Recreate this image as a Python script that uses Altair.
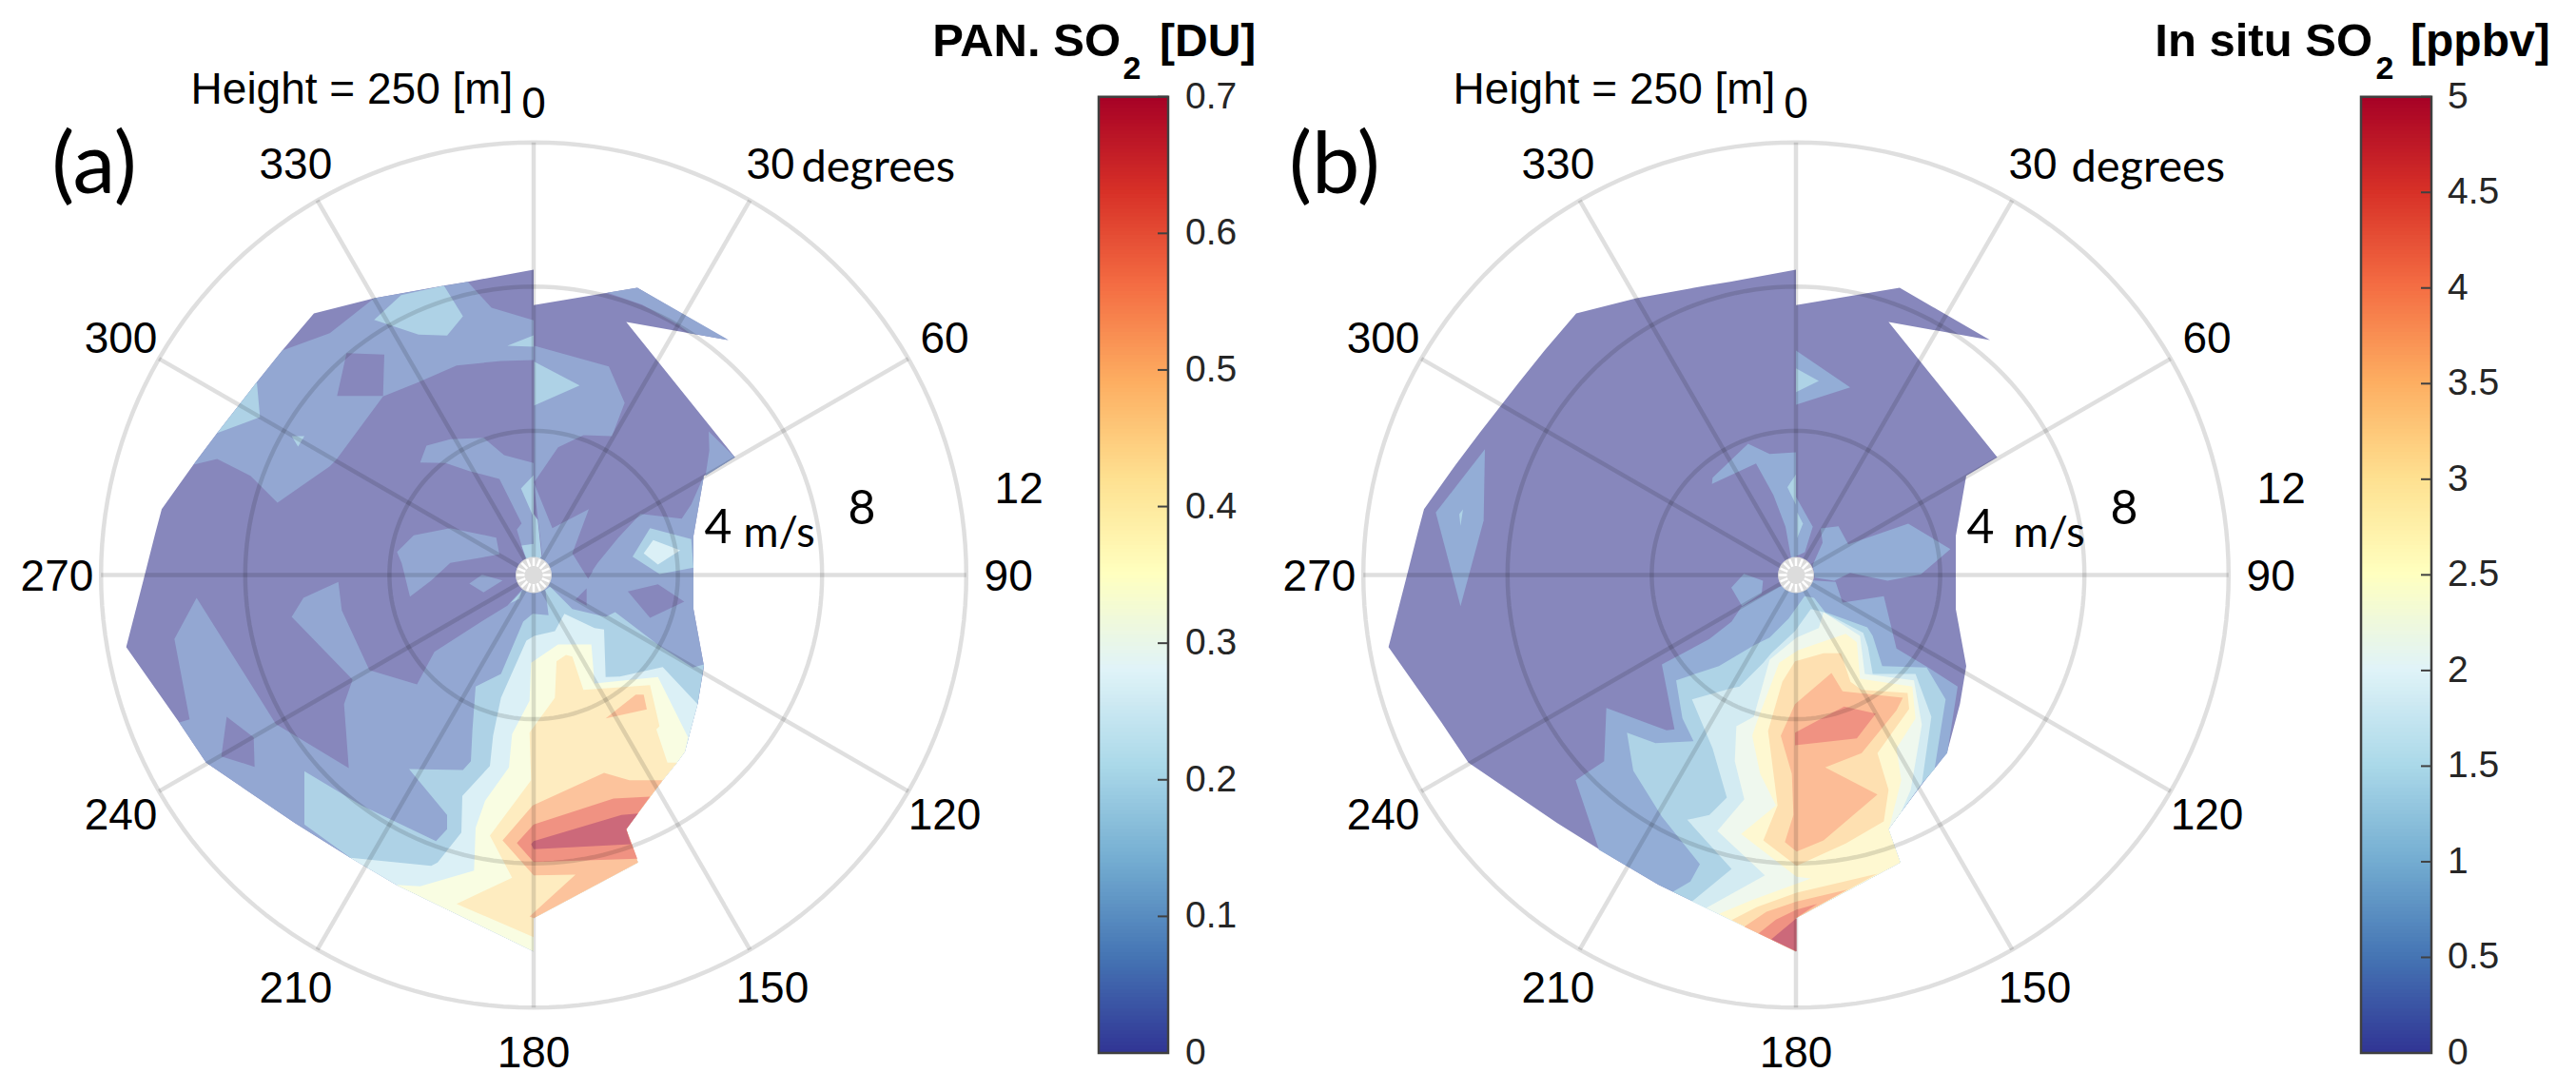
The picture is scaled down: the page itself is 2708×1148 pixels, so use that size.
import numpy as np
import pandas as pd
import altair as alt

# Contour outlines as (east, north) wind components,
# in units of 1/113.7 m/s; they are converted to m/s below.
UNITS_PER_MS = 113.7
PX_PER_MS = 37.9

COL_A = {"p": "#8787bc", "s": "#93a7d2", "l3": "#aed2e6", "l4": "#dbf0f6", "l5": "#f9fde2",
         "l6": "#feecc0", "l7": "#fcc39c", "l8": "#f09282", "l9": "#cc697a"}
COL_B = {"p": "#8787bc", "s": "#93add6", "l3": "#aed3e6", "l4": "#d3ebf2", "l5": "#eff8ee",
         "l6": "#fef8d1", "l7": "#fee0b1", "l8": "#fcbc96", "l9": "#f09282", "l10": "#cc697a"}

OUTLINE = [(0,963),(-208,925),(-283,913),(-503,873),(-693,825),(-793,708),(-873,608),(-998,448),
           (-1073,348),(-1173,208),(-1193,133),(-1231,-17),(-1285,-227),(-1118,-465),(-1033,-592),
           (-753,-782),(-578,-892),(-433,-977),(0,-1187),(0,-1082),(329,-907),(292,-802),(332,-747),
           (407,-647),(452,-592),(477,-557),(517,-407),(537,-287),(504,-107),(504,123),(537,313),
           (635,371),(292,798),(612,741),(327,906),(0,851)]
SE = [(517,-407),(477,-557),(452,-592),(407,-647),(332,-747),(292,-802),(329,-907),(0,-1082),(0,-1187)]

PANEL_A = [
 ("p", OUTLINE),
 ("s", [(-793,708),(-643,763),(-598,798),(-503,873),(-208,925),(-133,843),(0,803),(0,678),(-103,675),
        (-243,661),(-363,608),(-475,563),(-623,363),(-643,343),(-808,228),(-893,313),(-998,366),
        (-1073,348),(-998,448),(-873,608)]),
 ("p", [(-620,565),(-590,700),(-471,695),(-475,565)]),
 ("l3", [(-503,805),(-418,883),(-283,913),(-223,816),(-273,755),(-363,758)]),
 ("l3", [(-83,723),(0,756),(0,720)]),
 ("l3", [(-998,448),(-873,608),(-863,498)]),
 ("l3", [(-763,438),(-723,438),(-743,405)]),
 ("s", [(-358,355),(-338,408),(-263,428),(-158,433),(-93,378),(0,353),(0,30),(-23,43),(-53,143),
        (-38,163),(-108,303),(-203,328),(-278,353)]),
 ("l3", [(-40,273),(0,315),(0,193),(13,173),(25,60),(8,30),(-15,30),(-38,93),(0,98),(-3,188)]),
 ("s", [(-431,73),(-378,125),(-263,148),(-118,118),(-108,65),(-263,38),(-323,-17),(-390,-68),(-416,37)]),
 ("s", [(-203,-27),(-163,1),(-98,-17),(-158,-55)]),
 ("s", [(-1118,-465),(-1085,-455),(-1133,-202),(-1063,-72),(-813,-470),(-583,-609),(-598,-407),(-571,-330),
        (-763,-132),(-726,-72),(-616,-22),(-605,-112),(-518,-300),(-368,-345),(-313,-242),(-173,-152),
        (-83,-97),(-38,-47),(0,-27),(0,-400),(-100,-600),(-300,-880),(-578,-892),(-753,-782),(-1033,-592)]),
 ("p", [(-968,-447),(-883,-512),(-880,-605),(-985,-572)]),
 ("s", [(0,293),(59,148),(174,208),(122,68),(170,-9),(202,38),(267,118),(337,193),(467,178),(497,223),
        (537,313),(504,123),(504,-107),(537,-287),(517,-407),(200,-300),(0,-200),(-20,-20),(27,63)]),
 ("s", [(2,723),(237,658),(287,543),(247,438),(157,441),(77,403),(2,293)]),
 ("l3", [(2,673),(145,598),(2,535)]),
 ("s", [(232,890),(327,906),(615,741),(492,763),(457,788),(342,853)]),
 ("s", [(552,453),(635,371),(542,313),(554,393)]),
 ("l3", [(312,58),(367,148),(497,113),(504,23),(397,3)]),
 ("l4", [(347,68),(377,110),(462,78),(392,33)]),
 ("p", [(297,-52),(392,-29),(475,-84),(367,-135)]),
 ("p", [(132,-77),(167,-42),(167,-97)]),
 ("p", [(162,13),(187,13),(172,-12)]),
 ("l3", [(-74,-89),(-38,-52),(-45,-75)]),
 ("l3", [(-723,-619),(-543,-727),(-308,-839),(-273,-802),(-273,-757),(-393,-612),(-223,-615),(-198,-587),
         (-193,-487),(-183,-352),(-103,-312),(-33,-147),(-3,-122),(47,-127),(42,-87),(37,-47),(52,-37),
         (122,-107),(227,-132),(257,-117),(402,-227),(502,-292),(537,-282)] + SE +
        [(-433,-977),(-578,-892),(-723,-787)]),
 ("l4", [(-578,-892),(-323,-917),(-303,-907),(-228,-812),(-225,-697),(-138,-602),(-128,-507),(-103,-387),
         (-23,-207),(2,-192),(67,-177),(97,-122),(192,-167),(222,-172),(227,-322),(272,-320),(407,-290)] + SE +
        [(-433,-977)]),
 ("l5", [(-433,-977),(-358,-982),(-188,-932),(-183,-797),(-153,-712),(-78,-607),(-68,-502),(-13,-397),
         (-8,-277),(77,-219),(182,-219),(192,-342),(392,-322),(487,-512)] + SE[1:]),
 ("l6", [(-243,-1037),(-68,-955),(-138,-822),(-8,-647),(-13,-497),(67,-387),(72,-272),(102,-252),(122,-257),
         (157,-362),(367,-347),(397,-477),(387,-487),(422,-592)] + SE[2:-1] + [(0,-1142)]),
 ("l7", [(-98,-837),(-3,-727),(222,-624),(302,-647)] + SE[3:-1] + [(-13,-1077),(132,-945),(0,-947)]),
 ("l7", [(227,-452),(322,-377),(347,-377),(357,-424)]),
 ("l8", [(-53,-845),(0,-787),(252,-705),(367,-699),(332,-747),(292,-802),(327,-895),(0,-905)]),
 ("l9", [(-8,-849),(0,-839),(277,-757),(329,-752),(292,-802),(307,-849),(0,-865)]),
]

PANEL_B = [
 ("p", OUTLINE),
 ("s", [(0,708),(171,592),(0,537)]),
 ("l3", [(0,652),(72,612),(0,577)]),
 ("s", [(-1136,197),(-981,397),(-985,172),(-1058,-98)]),
 ("l3", [(-1062,192),(-1050,207),(-1058,155)]),
 ("s", [(-265,287),(-263,307),(-151,414),(-83,382),(0,387),(0,247),(53,152),(28,72),(-15,52),(-33,152),
        (-71,252),(-126,352)]),
 ("l3", [(-27,277),(0,317),(0,222)]),
 ("l3", [(4,197),(22,162),(4,117)]),
 ("s", [(78,147),(134,154),(165,97),(354,162),(487,82),(394,2),(289,-18),(171,7),(121,-18),(59,-8),(53,32),(84,102)]),
 ("s", [(-204,-40),(-164,4),(-104,-18),(-108,-58),(-170,-98)]),
 ("s", [(-53,-37),(-173,-102),(-203,-147),(-273,-202),(-423,-282),(-383,-487),(-408,-490),(-598,-419),
        (-605,-587),(-695,-647),(-621,-867),(-578,-892),(-433,-977),(0,-1187),(0,-1082),(329,-907),(292,-802),
        (332,-747),(407,-647),(452,-592),(477,-562),(510,-352),(417,-292),(317,-232),(277,-67),(147,-87),
        (125,-22),(57,-17)]),
 ("l3", [(-533,-497),(-443,-530),(-323,-524),(-358,-452),(-378,-332),(-243,-287),(-133,-222),(-83,-197),
         (-23,-137),(27,-67),(57,-72),(92,-117),(225,-165),(242,-192),(272,-287),(412,-292),(472,-392),
         (437,-612),(397,-657)] + SE[4:] + [(-388,-999),(-333,-967),(-303,-912),(-423,-762),(-513,-617)]),
 ("l4", [(-328,-392),(-203,-357),(-178,-352),(-103,-277),(-78,-247),(-3,-177),(47,-107),(87,-117),(212,-182),
         (227,-227),(242,-312),(377,-312),(427,-447),(397,-657)] + SE[4:] +
        [(-328,-1030),(-203,-927),(-343,-772),(-273,-757),(-218,-702),(-263,-547)]),
 ("l5", [(-188,-477),(-133,-447),(-83,-267),(2,-197),(72,-167),(87,-117),(202,-192),(217,-312),(372,-332),
         (397,-472),(362,-677)] + SE[4:] + [(-283,-1050),(-98,-947),(-248,-807),(-163,-707),(-193,-587)]),
 ("l6", [(-138,-507),(-123,-462),(-53,-277),(7,-237),(157,-185),(192,-212),(202,-327),(367,-352),(377,-452),
         (317,-547),(332,-647),(297,-787)] + SE[5:] + [(-243,-1069),(-143,-1027),(47,-957),(2,-952),(-173,-817),
         (-63,-727),(-113,-627)]),
 ("l7", [(-88,-492),(-43,-337),(-3,-272),(87,-247),(142,-247),(172,-337),(207,-362),(352,-372),(357,-422),
         (257,-562),(292,-677),(277,-777),(157,-847),(2,-917),(-103,-837),(-58,-727)]),
 ("l7", [(-203,-1088),(-123,-1047),(2,-1002),(257,-942),(0,-1082),(0,-1187)]),
 ("l8", [(-48,-507),(-3,-407),(112,-309),(147,-367),(337,-387),(317,-427),(207,-562),(92,-607),(257,-692),
         (87,-837),(2,-872),(-35,-842),(-8,-757),(-13,-627)]),
 ("l8", [(-163,-1109),(-93,-1062),(2,-1030),(162,-992),(0,-1082),(0,-1187)]),
 ("l9", [(-3,-497),(152,-415),(252,-437),(192,-515),(-3,-537)]),
 ("l9", [(-118,-1130),(-63,-1087),(2,-1055),(67,-1037),(0,-1082),(0,-1187)]),
 ("l10", [(-78,-1149),(2,-1082),(2,-1187)]),
]

DIRECTIONS = [0, 30, 60, 90, 120, 150, 180, 210, 240, 270, 300, 330]
SPEED_RINGS = [4, 8, 12]
DIR_LABEL_E = [0, 6.57, 11.4, 13.17, 11.4, 6.62, 0, -6.6, -11.45, -13.22, -11.45, -6.6]
DIR_LABEL_N = [13.06, 11.36, 6.53, -0.07, -6.69, -11.49, -13.29, -11.49, -6.69, -0.07, 6.53, 11.36]

TICKS_A = [0, 0.1, 0.2, 0.3, 0.4, 0.5, 0.6, 0.7]
TICKS_B = [0, 0.5, 1, 1.5, 2, 2.5, 3, 3.5, 4, 4.5, 5]
RDYLBU = ["#313695", "#4575b4", "#74add1", "#abd9e9", "#e0f3f8", "#ffffbf",
          "#fee090", "#fdae61", "#f46d43", "#d73027", "#a50026"]

W, H = 2692, 1132
PAGE = 8


def xscale(cx):
    return alt.Scale(domain=[-(cx - PAGE) / PX_PER_MS, (W + PAGE - cx) / PX_PER_MS], nice=False, zero=False)


def yscale(cy):
    return alt.Scale(domain=[-(H + PAGE - cy) / PX_PER_MS, (cy - PAGE) / PX_PER_MS], nice=False, zero=False)


def polar_panel(polys, colours, cx, cy, tag, tag_e, deg_e, ms_e):
    X = lambda f: alt.X(f, type="quantitative", scale=xscale(cx), axis=None)
    Y = lambda f: alt.Y(f, type="quantitative", scale=yscale(cy), axis=None)

    rows = []
    for pid, (lev, verts) in enumerate(polys):
        for i, (e, n) in enumerate(verts):
            rows.append(dict(pid=pid, i=i, e=e / UNITS_PER_MS, n=n / UNITS_PER_MS, c=colours[lev]))
    df = pd.DataFrame(rows)
    fills = alt.Chart(df).mark_line(strokeWidth=0, interpolate="linear-closed").encode(
        x=X("e"), y=Y("n"), order=alt.Order("i:Q"), detail="pid:N",
        fill=alt.Fill("c:N", scale=None))

    ring_rows = []
    for r in SPEED_RINGS:
        for i, a in enumerate(np.radians(np.arange(0, 361, 2))):
            ring_rows.append(dict(r=r, i=i, e=r * np.sin(a), n=r * np.cos(a)))
    grid_style = dict(color="#000000", opacity=0.125, strokeWidth=4.5)
    rings = alt.Chart(pd.DataFrame(ring_rows)).mark_line(**grid_style).encode(
        x=X("e"), y=Y("n"), detail="r:N", order=alt.Order("i:Q"))

    spoke = pd.DataFrame([dict(e0=0.45 * np.sin(np.radians(d)), n0=0.45 * np.cos(np.radians(d)),
                               e1=12 * np.sin(np.radians(d)), n1=12 * np.cos(np.radians(d)))
                          for d in DIRECTIONS])
    spokes = alt.Chart(spoke).mark_rule(**grid_style).encode(
        x=X("e0"), y=Y("n0"), x2="e1:Q", y2="n1:Q")

    hub = alt.Chart(pd.DataFrame({"e": [0.0], "n": [0.0]})).mark_circle(
        size=1444, color="#dcdcdc", opacity=1).encode(x=X("e"), y=Y("n"))
    hub_angles = np.radians(np.arange(0, 360, 22.5))
    hub_sp = pd.DataFrame(dict(e0=0.25 * np.sin(hub_angles), n0=0.25 * np.cos(hub_angles),
                               e1=0.47 * np.sin(hub_angles), n1=0.47 * np.cos(hub_angles)))
    hub_spokes = alt.Chart(hub_sp).mark_rule(color="#ffffff", strokeWidth=2.5).encode(
        x=X("e0"), y=Y("n0"), x2="e1:Q", y2="n1:Q")

    arial = pd.DataFrame(dict(e=DIR_LABEL_E + [13.46], n=DIR_LABEL_N + [2.36],
                              t=[str(d) for d in DIRECTIONS] + ["12"]))
    dir_labels = alt.Chart(arial).mark_text(font="Liberation Sans", fontSize=46, color="#000000",
                                            baseline="middle", align="center").encode(
        x=X("e"), y=Y("n"), text="t:N")
    height = alt.Chart(pd.DataFrame(dict(e=[-5.04], n=[13.45], t=["Height = 250 [m]"]))).mark_text(
        font="Liberation Sans", fontSize=46, color="#000000", baseline="middle", align="center").encode(
        x=X("e"), y=Y("n"), text="t:N")
    lato = pd.DataFrame(dict(e=[9.10, 5.12, ms_e, deg_e], n=[1.82, 1.27, 1.16, 11.27],
                             t=["8", "4", "m/s", "degrees"], fs=[50, 50, 45, 47]))
    calibri = alt.Chart(lato).mark_text(font="Lato", color="#000000", baseline="middle", align="center").encode(
        x=X("e"), y=Y("n"), text="t:N", size=alt.Size("fs:Q", scale=None))
    letter = alt.Chart(pd.DataFrame(dict(e=[tag_e], n=[11.3], t=[tag]))).mark_text(
        font="Lato", fontSize=90, color="#000000", baseline="middle", align="center").encode(
        x=X("e"), y=Y("n"), text="t:N")
    return [fills, rings, spokes, hub, hub_spokes, dir_labels, height, calibri, letter]


def colourbar(ticks, vmax, left, right, label_x, head, head_x, sub_x, tail_text, tail_x):
    top_px, bot_px = 101.7 - PAGE, 1107 - PAGE
    k = vmax / (bot_px - top_px)
    sc = alt.Scale(domain=[-(H - bot_px) * k, vmax + top_px * k], nice=False, zero=False)
    Y = lambda f: alt.Y(f, type="quantitative", scale=sc, axis=None)

    levels = [vmax * i / 256 for i in range(256)]
    grad = pd.DataFrame(dict(v0=levels, v1=[v + vmax / 256 * 1.2 for v in levels]))
    stops = [vmax * i / 10 for i in range(11)]
    bar = alt.Chart(grad).mark_rect().encode(
        x=alt.value(left - PAGE), x2=alt.value(right - PAGE), y=Y("v0"), y2="v1:Q",
        color=alt.Color("v0:Q", scale=alt.Scale(domain=stops, range=RDYLBU, interpolate="rgb"), legend=None))
    frame = alt.Chart(pd.DataFrame(dict(a=[0], b=[vmax]))).mark_rect(
        fill=None, stroke="#404040", strokeWidth=2.5).encode(
        x=alt.value(left - PAGE), x2=alt.value(right - PAGE), y=Y("a"), y2="b:Q")
    tdf = pd.DataFrame(dict(v=ticks, t=[f"{v:g}" for v in ticks]))
    tick_marks = alt.Chart(tdf).mark_rule(color="#404040", strokeWidth=2).encode(
        x=alt.value(right - PAGE - 11), x2=alt.value(right - PAGE), y=Y("v"))
    labels = alt.Chart(tdf).mark_text(font="Liberation Sans", fontSize=39, color="#262626",
                                      align="left", baseline="middle").encode(
        x=alt.value(label_x - PAGE), y=Y("v"), text="t:N")
    out = [bar, frame, tick_marks, labels]
    for txt, xpos, align, fs, yp in [(head, head_x, "right", 49, 59), ("2", sub_x, "center", 34, 83),
                                     (tail_text, tail_x, "left", 48, 59)]:
        out.append(alt.Chart(pd.DataFrame(dict(t=[txt]))).mark_text(
            font="Liberation Sans", fontWeight="bold", fontSize=fs, color="#000000",
            align=align, baseline="alphabetic").encode(
            x=alt.value(xpos - PAGE), y=alt.value(yp - PAGE), text="t:N"))
    return out


layers = []
layers += polar_panel(PANEL_A, COL_A, 561, 604.5, "(a)", -12.19, 9.56, 6.81)
layers += colourbar(TICKS_A, 0.7, 1155, 1228, 1246, "PAN. SO", 1178, 1190, "[DU]", 1219)
layers += polar_panel(PANEL_B, COL_B, 1888, 604.5, "(b)", -12.8, 9.77, 7.02)
layers += colourbar(TICKS_B, 5, 2482, 2556, 2573, "In situ SO", 2494, 2507, "[ppbv]", 2534)

chart = alt.layer(*layers).resolve_scale(x="independent", y="independent", color="independent").properties(
    width=W, height=H, padding=0, autosize=alt.AutoSizeParams(type="none"),
    background="#ffffff").configure_view(stroke=None)

chart.save("out.html", embed_options={"renderer": "svg", "actions": False})
